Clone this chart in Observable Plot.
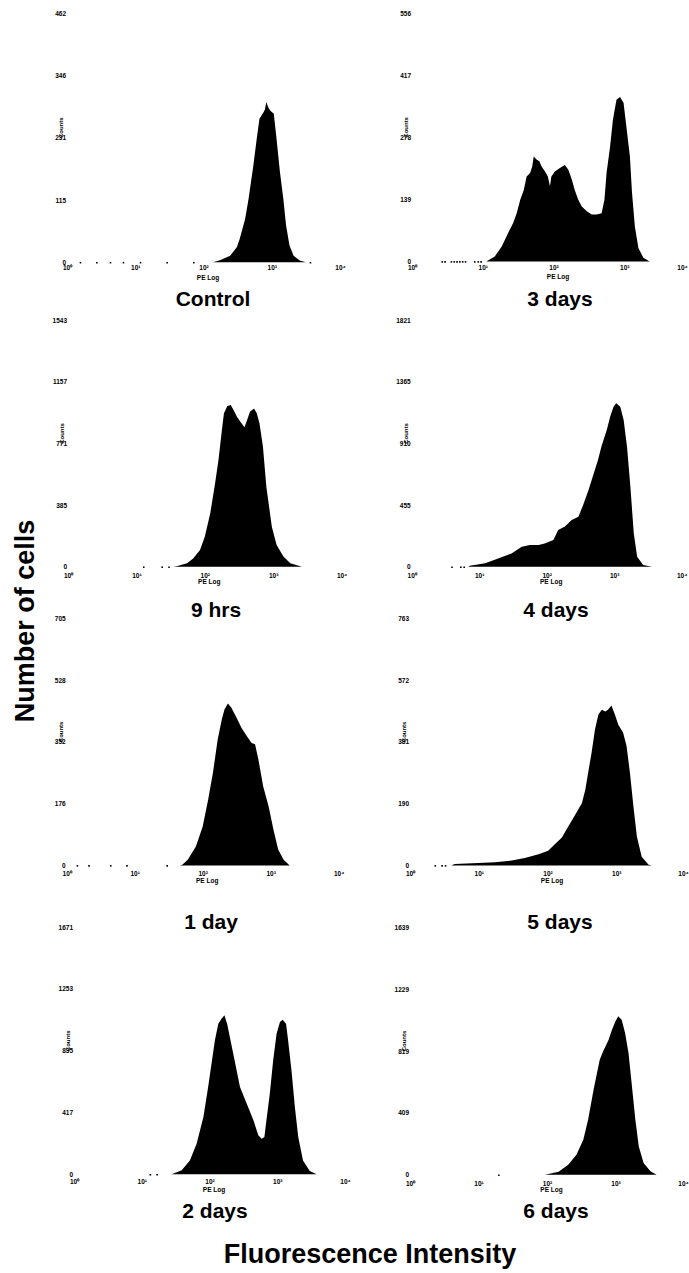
<!DOCTYPE html>
<html><head><meta charset="utf-8">
<script src="https://cdn.jsdelivr.net/npm/d3@7"></script>
<script src="https://cdn.jsdelivr.net/npm/@observablehq/plot@0.6"></script>
<style>
html,body{margin:0;padding:0;background:#fff;}
body{width:689px;height:1273px;position:relative;overflow:hidden;font-family:"Liberation Sans",Arial,sans-serif;color:#000;}
.panel{position:absolute;}
.panel svg{max-width:none !important;}
.lbl{position:absolute;font-weight:bold;white-space:nowrap;line-height:1;}
</style></head><body>
<script>
// ---- data (x = log10 PE fluorescence, y = number of cells) ----
const titles = ["Control", "3 days", "9 hrs", "4 days", "1 day", "5 days", "2 days", "6 days"];
const xTicks = [1, 10, 100, 1000, 10000];
const xTickLabels = ["10⁰", "10¹", "10²", "10³", "10⁴"];
const yTickLabels = [
  [0, 115, 231, 346, 462],
  [0, 139, 278, 417, 556],
  [0, 385, 771, 1157, 1543],
  [0, 455, 910, 1365, 1821],
  [0, 176, 352, 528, 705],
  [0, 190, 381, 572, 763],
  [0, 417, 835, 1253, 1671],
  [0, 409, 819, 1229, 1639]
];
const control = [[2.14,0],[2.25,4],[2.39,12],[2.49,28],[2.53,43],[2.61,80],[2.66,117],[2.73,179],[2.78,229],[2.82,266],[2.88,278],[2.90,283],[2.92,297],[2.95,287],[2.98,281],[3.03,275],[3.07,229],[3.12,167],[3.17,117],[3.21,68],[3.26,31],[3.32,12],[3.41,3],[3.50,0]];
const threeDays = [[1.05,0],[1.17,11],[1.27,34],[1.36,64],[1.43,86],[1.48,108],[1.53,138],[1.58,160],[1.62,190],[1.67,198],[1.70,213],[1.72,235],[1.76,228],[1.80,224],[1.83,213],[1.88,201],[1.92,190],[1.95,168],[1.97,190],[2.02,201],[2.09,209],[2.16,216],[2.21,205],[2.26,183],[2.30,160],[2.35,138],[2.40,123],[2.47,112],[2.54,105],[2.61,105],[2.68,108],[2.72,138],[2.75,198],[2.80,257],[2.84,317],[2.89,362],[2.94,368],[2.99,355],[3.03,302],[3.08,235],[3.11,153],[3.15,78],[3.20,30],[3.27,8],[3.36,0]];
const nineHrs = [[1.54,0],[1.60,4],[1.74,21],[1.83,52],[1.93,104],[2.00,188],[2.08,334],[2.15,521],[2.20,667],[2.25,855],[2.28,959],[2.33,1005],[2.38,1011],[2.42,980],[2.47,938],[2.52,907],[2.58,872],[2.61,907],[2.66,969],[2.72,990],[2.76,959],[2.80,896],[2.85,751],[2.90,500],[2.98,250],[3.05,136],[3.15,63],[3.25,21],[3.42,0]];
const fourDays = [[0.84,0],[0.86,7],[1.09,25],[1.28,61],[1.48,98],[1.63,148],[1.75,160],[1.88,160],[1.97,172],[2.10,197],[2.17,271],[2.27,296],[2.37,345],[2.47,369],[2.54,455],[2.62,566],[2.69,677],[2.76,788],[2.81,886],[2.89,1009],[2.94,1107],[2.99,1181],[3.03,1206],[3.09,1181],[3.14,1083],[3.19,886],[3.24,591],[3.29,246],[3.34,74],[3.43,12],[3.56,0]];
const oneDay = [[1.66,0],[1.70,2],[1.78,16],[1.90,54],[2.00,111],[2.08,187],[2.15,263],[2.22,358],[2.28,415],[2.32,444],[2.37,461],[2.42,450],[2.50,420],[2.57,392],[2.65,368],[2.72,349],[2.77,345],[2.82,301],[2.89,225],[2.97,168],[3.04,102],[3.11,45],[3.19,16],[3.28,0]];
const fiveDays = [[0.60,0],[0.65,4],[0.99,7],[1.24,10],[1.48,15],[1.67,23],[1.87,34],[2.01,45],[2.11,66],[2.21,86],[2.28,112],[2.35,137],[2.42,162],[2.50,192],[2.55,233],[2.59,284],[2.64,346],[2.69,418],[2.74,465],[2.79,480],[2.84,475],[2.88,480],[2.93,493],[2.98,465],[3.03,434],[3.10,409],[3.15,368],[3.20,284],[3.25,182],[3.30,89],[3.37,27],[3.47,2],[3.52,0]];
const twoDays = [[1.44,0],[1.59,27],[1.71,94],[1.81,207],[1.91,387],[1.98,590],[2.03,748],[2.08,905],[2.13,1018],[2.18,1052],[2.22,1074],[2.26,1018],[2.31,905],[2.38,748],[2.45,590],[2.55,477],[2.65,364],[2.72,263],[2.77,241],[2.81,252],[2.84,364],[2.89,545],[2.94,770],[2.99,950],[3.04,1029],[3.08,1045],[3.13,1018],[3.16,905],[3.21,703],[3.26,455],[3.31,252],[3.38,94],[3.48,22],[3.58,0]];
const sixDays = [[1.97,0],[2.17,20],[2.31,66],[2.43,132],[2.53,232],[2.60,364],[2.68,562],[2.73,673],[2.77,761],[2.82,816],[2.90,893],[2.95,960],[3.00,1015],[3.04,1048],[3.09,1026],[3.14,938],[3.19,805],[3.24,585],[3.29,364],[3.34,187],[3.41,77],[3.51,22],[3.60,0]];
// sparse low-count events along the baseline (log10 PE)
const controlNoise = [0.19, 0.43, 0.63, 0.82, 1.07, 1.46, 1.85, 3.56];
const threeDaysNoise = [0.42, 0.46, 0.55, 0.59, 0.63, 0.67, 0.71, 0.75, 0.88, 0.93, 0.97];
const nineHrsNoise = [1.10, 1.37, 1.47];
const fourDaysNoise = [0.59, 0.72, 0.77];
const oneDayNoise = [0.15, 0.32, 0.64, 0.88, 1.47];
const fiveDaysNoise = [0.36, 0.46, 0.51];
const twoDaysNoise = [1.12, 1.22];
const sixDaysNoise = [1.29];

const series = [control, threeDays, nineHrs, fourDays, oneDay, fiveDays, twoDays, sixDays];
const noises = [controlNoise, threeDaysNoise, nineHrsNoise, fourDaysNoise, oneDayNoise, fiveDaysNoise, twoDaysNoise, sixDaysNoise];

// ---- layout (pixels on the page) ----
const layout = [
  {left:0,   x0:67,    x4:340,   yTop:13.3,  y0:262.5, gap:3, lastDx:0,  tx:213, ty:305.5},
  {left:345, x0:412,   x4:695,   yTop:13.3,  y0:261.7, gap:3, lastDx:-13, tx:560, ty:306},
  {left:0,   x0:68,    x4:341.6, yTop:320,   y0:566.7, gap:6, lastDx:0,  tx:216, ty:617},
  {left:345, x0:411.7, x4:681.7, yTop:320,   y0:566.7, gap:6, lastDx:0,  tx:556, ty:617},
  {left:0,   x0:66.7,  x4:338.7, yTop:618.3, y0:865.7, gap:5, lastDx:0,  tx:211, ty:929},
  {left:345, x0:410,   x4:685,   yTop:618.3, y0:865.7, gap:5, lastDx:-2, tx:560, ty:929},
  {left:0,   x0:74,    x4:345,   yTop:926.7, y0:1174,  gap:5, lastDx:0,  tx:215, ty:1218},
  {left:345, x0:410,   x4:684,   yTop:927.3, y0:1175,  gap:6, lastDx:-1, tx:556, ty:1218}
];

const FONT = '"Liberation Sans", Arial, sans-serif';
const mt = 10, mb = 30, mr = 15;

series.forEach((data, i) => {
  const L = layout[i];
  const ticks = yTickLabels[i];
  const maxY = ticks[ticks.length - 1];
  const width = L.x4 - L.left + mr;
  const height = (L.y0 - L.yTop) + mt + mb;
  const svg = Plot.plot({
    width, height,
    marginLeft: L.x0 - L.left, marginRight: mr, marginTop: mt, marginBottom: mb,
    style: {background: "transparent", overflow: "visible", maxWidth: "none", fontFamily: FONT, fontSize: "6.5px", fontWeight: "bold", color: "#000"},
    x: {type: "log", domain: [1, 10000], ticks: xTicks.slice(0, 4), tickFormat: d => xTickLabels[xTicks.indexOf(d)], tickSize: 0, tickPadding: L.gap, label: null},
    y: {domain: [0, maxY], ticks: ticks, tickFormat: d => String(d), tickSize: 0, tickPadding: 1.5, label: null},
    marks: [
      Plot.areaY(data, {x: d => 10 ** d[0], y: d => d[1], fill: "#000", curve: "linear"}),
      Plot.dot(noises[i], {x: d => 10 ** d, y: () => 0, r: 0.9, symbol: "square", fill: "#000", stroke: null}),
      Plot.text(xTicks.slice(4), {x: d => d, text: d => xTickLabels[xTicks.indexOf(d)], frameAnchor: "bottom", lineAnchor: "top", dy: L.gap, dx: L.lastDx, fontSize: 6.5, fontWeight: "bold"}),
      Plot.text(["PE Log"], {x: () => 100, text: d => d, frameAnchor: "bottom", dy: 17, dx: 4, fontSize: 6.5, fontWeight: "bold"}),
      Plot.text(["Counts"], {text: d => d, frameAnchor: "left", rotate: -90, dx: -6, fontSize: 6, fontWeight: "bold"})
    ]
  });
  svg.style.width = width + "px";
  svg.style.height = height + "px";
  const div = document.createElement("div");
  div.className = "panel";
  div.style.left = L.left + "px";
  div.style.top = (L.yTop - mt) + "px";
  div.style.width = width + "px";
  div.style.height = height + "px";
  div.appendChild(svg);
  document.body.appendChild(div);

  const t = document.createElement("div");
  t.className = "lbl";
  t.textContent = titles[i];
  t.style.fontSize = "21px";
  t.style.left = L.tx + "px";
  t.style.top = (L.ty - 0.8465 * 21) + "px";
  t.style.transform = "translateX(-50%)";
  document.body.appendChild(t);
});

// overall axis titles
const yt = document.createElement("div");
yt.className = "lbl";
yt.textContent = "Number of cells";
yt.style.fontSize = "27px";
yt.style.left = "25px";
yt.style.top = "621px";
yt.style.transform = "translate(-50%,-50%) rotate(-90deg)";
document.body.appendChild(yt);

const xt = document.createElement("div");
xt.className = "lbl";
xt.textContent = "Fluorescence Intensity";
xt.style.fontSize = "27px";
xt.style.left = "370px";
xt.style.top = (1263.5 - 0.8465 * 27) + "px";
xt.style.transform = "translateX(-50%)";
document.body.appendChild(xt);
</script>
</body></html>
